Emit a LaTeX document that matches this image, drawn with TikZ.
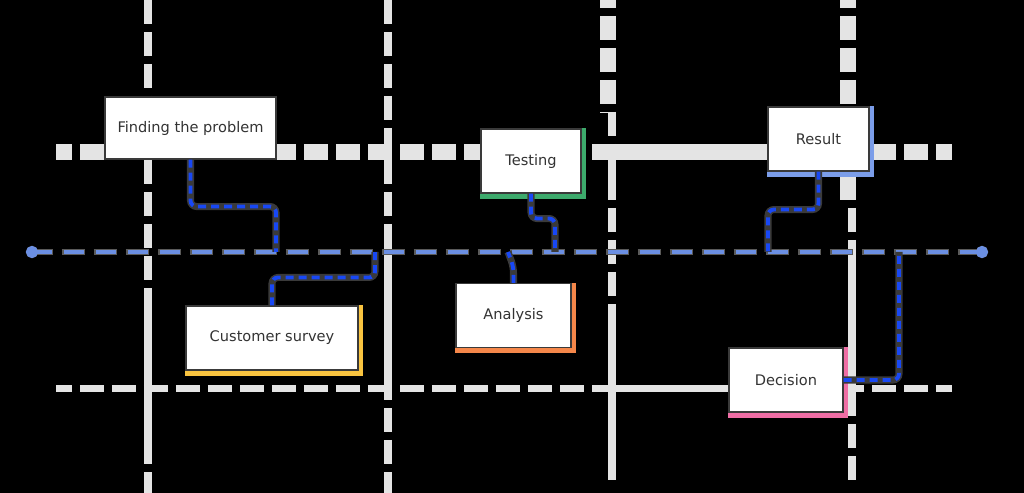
\documentclass[tikz,border=0pt]{standalone}
\usepackage{fontspec}
\setmainfont{DejaVu Sans}
\usetikzlibrary{arrows.meta}

\definecolor{gridgray}{HTML}{E4E4E4}
\definecolor{tlblue}{HTML}{6B8FE3}
\definecolor{tlback}{HTML}{5A5A5A}
\definecolor{linkblue}{HTML}{1848F5}
\definecolor{linkback}{HTML}{3A3A3A}
\definecolor{boxline}{HTML}{3A3A3A}
\definecolor{boxtext}{HTML}{333333}
\definecolor{tgreen}{HTML}{3DAA6C}
\definecolor{tblue}{HTML}{7B9DE9}
\definecolor{tyellow}{HTML}{F9C440}
\definecolor{torange}{HTML}{F5874A}
\definecolor{tpink}{HTML}{EF6EA5}

\pgfdeclarelayer{gridlayer}
\pgfdeclarelayer{shade}
\pgfsetlayers{gridlayer,shade,main}

\begin{document}
\begin{tikzpicture}[x=0.02cm,y=-0.02cm,
  grid/.style={draw=gridgray,line width=0.16cm},
  gridthick/.style={draw=gridgray,line width=0.32cm},
  gridfine/.style={draw=gridgray,line width=0.14cm},
  gapped/.style={dash pattern=on 0.48cm off 0.16cm},
  stepbox/.style={rectangle,draw=boxline,line width=0.6pt,fill=white,text=boxtext,
    minimum height=1.28cm,inner sep=0pt,font=\fontsize{8.3}{10}\selectfont},
  timeline/.style={draw=tlblue,line width=2pt,dash pattern=on 0.4cm off 0.24cm,dash phase=0.08cm,
    preaction={draw=tlback,line width=3.2pt,dash pattern=on 0.46cm off 0.18cm,dash phase=0.11cm}},
  link/.style={draw=linkblue,line width=2.2pt,dash pattern=on 0.16cm off 0.1cm,rounded corners=0.12cm,
    preaction={draw=linkback,line width=4pt,solid}}]
  \useasboundingbox (0,0) rectangle (1024,493);

  \begin{pgfonlayer}{gridlayer}
  \fill[black] (0,0) rectangle (1024,493);
  % columns
  \draw[grid,gapped] (148,0) -- (148,280);
  \draw[grid] (148,288) -- (148,464);
  \draw[grid] (148,472) -- (148,493);
  \draw[grid,gapped] (388,0) -- (388,120);
  \draw[grid] (388,128) -- (388,184);
  \draw[grid] (388,192) -- (388,216);
  \draw[grid] (388,224) -- (388,400);
  \draw[grid,gapped] (388,408) -- (388,493);
  \draw[gridthick,gapped,dash phase=0.32cm] (608,0) -- (608,112);
  \draw[grid] (612,112) -- (612,136);
  \draw[grid] (612,144) -- (612,200);
  \draw[grid,gapped] (612,208) -- (612,296);
  \draw[grid] (612,304) -- (612,480);
  \draw[gridthick,gapped,dash phase=0.32cm] (848,0) -- (848,200);
  \draw[grid] (852,208) -- (852,232);
  \draw[grid] (852,240) -- (852,416);
  \draw[grid,gapped] (852,424) -- (852,480);
  % rows
  \draw[gridthick,gapped,dash phase=0.16cm] (56,152) -- (480,152);
  \draw[gridthick] (592,152) -- (768,152);
  \draw[gridthick,gapped] (872,152) -- (952,152);
  \draw[gridfine,gapped,dash phase=0.16cm] (56,388) -- (584,388);
  \draw[gridfine] (592,388) -- (728,388);
  \draw[gridfine,gapped,dash phase=0.24cm] (852,388) -- (952,388);
  \end{pgfonlayer}

  \node[stepbox,minimum width=3.42cm,minimum height=1.24cm] (problem) at (190.5,128) {Finding the problem};
  \node[stepbox,minimum width=2cm] (testing) at (531,161) {Testing};
  \node[stepbox,minimum width=2.02cm] (result) at (818.5,139) {Result};
  \node[stepbox,minimum width=3.44cm] (survey) at (272,338) {Customer survey};
  \node[stepbox,minimum width=2.3cm] (analysis) at (513.5,315.5) {Analysis};
  \node[stepbox,minimum width=2.28cm] (decision) at (786,380) {Decision};

  \begin{pgfonlayer}{shade}
  \foreach \n/\c in {testing/tgreen,result/tblue,survey/tyellow,analysis/torange,decision/tpink}
    \fill[\c] (\n.north west) rectangle ([shift={(4,5)}]\n.south east);
  \end{pgfonlayer}

  \coordinate (tlstart) at (26,252);
  \coordinate (tlend) at (988,252);
  \draw[timeline,{Circle[length=0.24cm]}-{Circle[length=0.24cm]}] (tlstart) -- (tlend);

  \coordinate (tl1) at (276,252);
  \coordinate (tl2) at (375,252);
  \coordinate (tl3) at (555,252);
  \coordinate (tl4) at (508,252);
  \coordinate (tl5) at (768,252);
  \coordinate (tl6) at (899,252);

  \draw[link] (problem.south) -- ++(0,47) -| (tl1);
  \draw[link] (survey.north) -- ++(0,-28) -| (tl2);
  \draw[link] (testing.south) -- ++(0,25) -| (tl3);
  \draw[link] (analysis.north) -- ++(0,-16) -- (tl4);
  \draw[link] (result.south) -- ++(0,38) -| (tl5);
  \draw[link] (decision.east) -| (tl6);
\end{tikzpicture}
\end{document}
